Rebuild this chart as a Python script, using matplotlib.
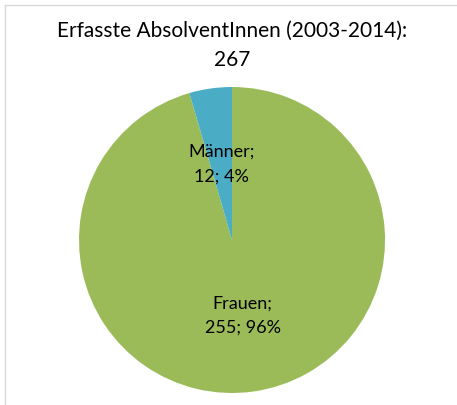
import matplotlib
matplotlib.use("Agg")
import matplotlib.pyplot as plt
from matplotlib.lines import Line2D

# Daten
categories = ["Frauen", "Männer"]
values = [255, 12]
colors = ["#9BBB59", "#4BACC6"]
title = "Erfasste AbsolventInnen (2003-2014):\n267"

plt.rcParams['font.family'] = ['Lato', 'DejaVu Sans']

fig = plt.figure(figsize=(4.57, 4.05), dpi=100)
ax = fig.add_axes([0.1729, 0.0296, 0.6696, 0.7556])

total = sum(values)
labels = [f"{c};\n{v}; {round(v / total * 100)}%" for c, v in zip(categories, values)]

wedges, texts = ax.pie(values, colors=colors, labels=labels, startangle=90,
                       counterclock=False, labeldistance=0.5,
                       wedgeprops=dict(linewidth=0),
                       textprops=dict(fontsize=13, color="#000000", linespacing=1.65))
for t in texts:
    t.set_ha("center")
    t.set_va("center")
ax.set_xlim(-1, 1)
ax.set_ylim(-1, 1)

fig.text(0.5077, 0.888, title, ha="center", va="center", fontsize=15,
         linespacing=1.6, color="#000000")

# Rahmen des Diagrammbereichs
fig.add_artist(Line2D([5 / 457, 1], [1 - 5 / 405, 1 - 5 / 405],
                      transform=fig.transFigure, color="#D9D9D9", lw=1))
fig.add_artist(Line2D([5 / 457, 5 / 457], [0, 1 - 5 / 405],
                      transform=fig.transFigure, color="#D9D9D9", lw=1))

fig.savefig("out.png", dpi=100)
